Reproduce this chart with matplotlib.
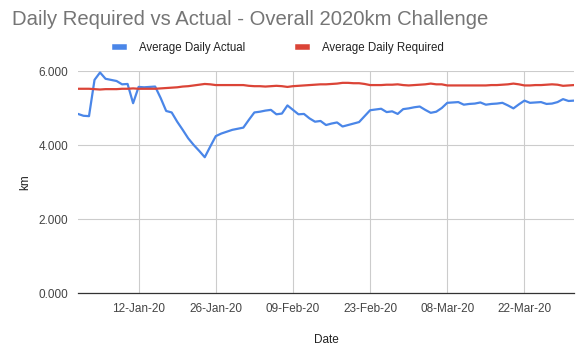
import matplotlib
matplotlib.use('Agg')
from matplotlib import pyplot as plt
import matplotlib.dates as mdates
import matplotlib.ticker as mticker
import numpy as np
import pandas as pd

plt.rcParams['font.family'] = ['Liberation Sans', 'DejaVu Sans']

start_date = '2020-01-01'

# average daily km actually done (one value per day)
actual = [4.84, 4.79, 4.78, 5.76, 5.96, 5.79, 5.76, 5.73, 5.64, 5.65,
          5.13, 5.57, 5.56, 5.57, 5.58, 5.27, 4.92, 4.88, 4.63, 4.41,
          4.18, 4.00, 3.84, 3.67, 3.96, 4.24, 4.31, 4.36, 4.41, 4.44,
          4.47, 4.68, 4.88, 4.90, 4.93, 4.95, 4.83, 4.85, 5.07, 4.95,
          4.83, 4.84, 4.72, 4.63, 4.65, 4.54, 4.58, 4.61, 4.50, 4.54,
          4.58, 4.62, 4.78, 4.94, 4.96, 4.98, 4.89, 4.91, 4.84, 4.97,
          4.99, 5.02, 5.04, 4.95, 4.87, 4.90, 5.00, 5.14, 5.15, 5.16,
          5.09, 5.11, 5.12, 5.15, 5.09, 5.11, 5.12, 5.14, 5.07, 4.99,
          5.10, 5.20, 5.14, 5.15, 5.16, 5.11, 5.12, 5.16, 5.24, 5.19,
          5.20]

# average daily km required to reach 2020 km
required = [5.52, 5.52, 5.52, 5.51, 5.50, 5.51, 5.51, 5.51, 5.52, 5.52,
            5.53, 5.52, 5.52, 5.52, 5.52, 5.53, 5.54, 5.55, 5.56, 5.58,
            5.59, 5.61, 5.63, 5.65, 5.64, 5.62, 5.62, 5.62, 5.62, 5.62,
            5.62, 5.60, 5.59, 5.59, 5.58, 5.59, 5.60, 5.59, 5.57, 5.59,
            5.60, 5.61, 5.62, 5.63, 5.64, 5.64, 5.65, 5.66, 5.68, 5.68,
            5.67, 5.67, 5.65, 5.62, 5.62, 5.62, 5.63, 5.63, 5.64, 5.62,
            5.61, 5.62, 5.63, 5.64, 5.66, 5.64, 5.64, 5.61, 5.61, 5.61,
            5.61, 5.61, 5.61, 5.61, 5.61, 5.62, 5.62, 5.63, 5.64, 5.66,
            5.64, 5.61, 5.61, 5.62, 5.62, 5.63, 5.64, 5.63, 5.60, 5.61,
            5.62]

dates = pd.date_range(start_date, periods=len(actual))
tick_dates = pd.date_range('2020-01-12', periods=6, freq='14D')

fig = plt.figure(figsize=(5.85, 3.54), dpi=100)
ax = fig.add_axes([0.1333, 0.1723, 0.848, 0.6271])

ax.plot(dates, actual, color='#4a86e8', linewidth=1.6, label='Average Daily Actual')
ax.plot(dates, required, color='#db4437', linewidth=1.6, label='Average Daily Required')

ax.set_xlim(dates[0], dates[-1])
ax.set_ylim(0, 6)
ax.set_yticks([0, 2, 4, 6])
ax.yaxis.set_major_formatter(mticker.FormatStrFormatter('%.3f'))
ax.set_xticks(tick_dates)
ax.xaxis.set_major_formatter(mdates.DateFormatter('%d-%b-%y'))

ax.grid(True, color='#cccccc', linewidth=0.8)
ax.set_axisbelow(True)
for s in ['top', 'right', 'left']:
    ax.spines[s].set_visible(False)
ax.spines['bottom'].set_color('#333333')
ax.spines['bottom'].set_linewidth(0.9)
ax.spines['bottom'].set_zorder(3)
ax.tick_params(length=0, labelsize=8.5, labelcolor='#444444', pad=7)

ax.set_xlabel('Date', fontsize=8.5, color='#222222', labelpad=14)
ax.set_ylabel('km', fontsize=8.5, color='#222222', labelpad=5)

fig.text(0.02, 0.945, 'Daily Required vs Actual - Overall 2020km Challenge',
         fontsize=14.6, color='#757575', va='center', ha='left')

fig.legend(loc='center', bbox_to_anchor=(0.478, 0.865), ncol=2, frameon=False,
           fontsize=8.3, handlelength=0.75, handleheight=0.6, columnspacing=4.6,
           handletextpad=1.3, labelcolor='#222222')
leg = fig.legends[0]
for h in leg.legend_handles:
    h.set_linewidth(4)

fig.savefig('out.png', dpi=100)
